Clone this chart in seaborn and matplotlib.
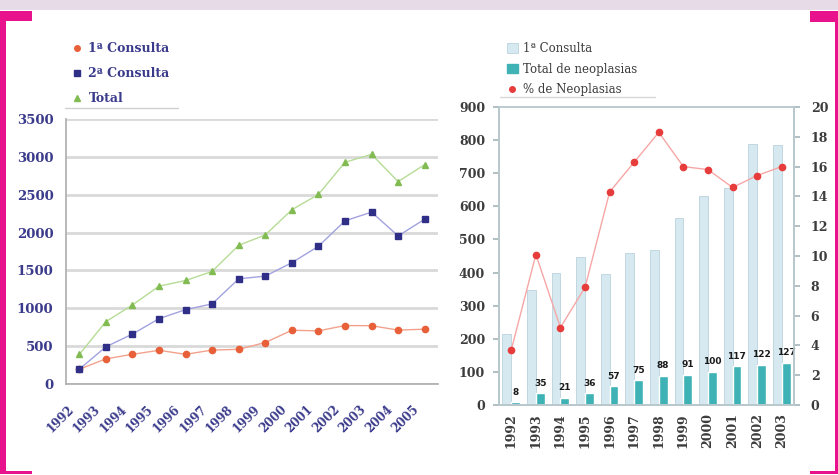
import numpy as np
import pandas as pd
import seaborn as sns
from matplotlib import pyplot as plt
from matplotlib.patches import Rectangle, Patch
from matplotlib.lines import Line2D

# left chart data
years_left = ["1992", "1993", "1994", "1995", "1996", "1997", "1998",
              "1999", "2000", "2001", "2002", "2003", "2004", "2005"]
consulta1 = [195, 332, 392, 445, 392, 448, 458, 548, 710, 702, 772, 770, 712, 724]
consulta2 = [195, 491, 659, 863, 982, 1058, 1389, 1425, 1602, 1819, 2155, 2270, 1956, 2177]
total = [390, 823, 1044, 1292, 1367, 1487, 1832, 1969, 2301, 2504, 2929, 3033, 2673, 2898]

# right chart data
years_right = ["1992", "1993", "1994", "1995", "1996", "1997",
               "1998", "1999", "2000", "2001", "2002", "2003"]
primera = [215, 347, 400, 447, 395, 458, 468, 565, 630, 656, 788, 786]
neoplasias = [8, 35, 21, 36, 57, 75, 88, 91, 100, 117, 122, 127]
pct_neo = [3.7, 10.1, 5.2, 7.9, 14.3, 16.3, 18.3, 16.0, 15.8, 14.6, 15.4, 16.0]

W, H = 838, 475
NAVY = "#3b3b8c"
GREY = "#3c3c3c"
MAGENTA = "#e8128c"
LIGHT = "#d6e9f0"
TEAL = "#3fb2b5"


def px_rect(fig, x0, y0, x1, y1, color):
    fig.patches.append(Rectangle((x0 / W, 1 - y1 / H), (x1 - x0) / W, (y1 - y0) / H,
                                 transform=fig.transFigure, figure=fig,
                                 color=color, lw=0, zorder=10))


def px_line(fig, x0, x1, y, color):
    fig.lines.append(Line2D([x0 / W, x1 / W], [1 - y / H, 1 - y / H],
                            transform=fig.transFigure, figure=fig,
                            color=color, lw=1))


def left_chart(fig):
    ax = fig.add_axes([66 / W, 1 - 384 / H, 372 / W, 265 / H])
    df = pd.DataFrame({"idx": np.arange(len(years_left)), "c1": consulta1,
                       "c2": consulta2, "tot": total})
    series = [("c1", "#f2a28c", "#e8603a", "o", 4.5),
              ("c2", "#a2a2e0", "#2f2f88", "s", 4.5),
              ("tot", "#b6dc96", "#82bb52", "^", 5)]
    for col, lc, mc, mk, ms in series:
        sns.lineplot(data=df, x="idx", y=col, ax=ax, color=lc, lw=1)
        ax.plot(df["idx"], df[col], ls="none", marker=mk, ms=ms, color=mc, zorder=4)
    ax.set_xlim(-0.5, len(years_left) - 0.5)
    ax.set_ylim(0, 3500)
    ax.set_yticks(range(0, 3501, 500))
    ax.grid(axis="y", color="#d9d9d9", lw=2)
    ax.grid(axis="x", visible=False)
    ax.set_xticks(np.arange(len(years_left)) - 0.28, years_left, rotation=45,
                  ha="right", va="center", rotation_mode="anchor")
    ax.set_xticks(np.arange(len(years_left) + 1) - 0.5, minor=True)
    ax.tick_params(axis="x", which="major", length=0, pad=17)
    ax.tick_params(axis="x", which="minor", length=4, color="#b0b0b0")
    ax.tick_params(axis="y", length=4, color="#b0b0b0", pad=5)
    for lab in ax.get_xticklabels():
        lab.set_color(NAVY)
        lab.set_fontweight("bold")
        lab.set_fontsize(8.5)
    for lab in ax.get_yticklabels():
        lab.set_color(NAVY)
        lab.set_fontweight("bold")
        lab.set_fontsize(9.5)
    for s in ["top", "right"]:
        ax.spines[s].set_visible(False)
    for s in ["left", "bottom"]:
        ax.spines[s].set_color("#b0b0b0")
    ax.set(xlabel="", ylabel="")
    handles = [Line2D([], [], ls="none", marker="o", ms=4, color="#e8603a"),
               Line2D([], [], ls="none", marker="s", ms=4, color="#2f2f88"),
               Line2D([], [], ls="none", marker="^", ms=4, color="#82bb52")]
    leg = fig.legend(handles, ["1ª Consulta", "2ª Consulta", "Total"],
                     loc="upper left", bbox_to_anchor=(66 / W, 1 - 36 / H),
                     frameon=False, handlelength=0.8, handletextpad=0.5,
                     labelspacing=0.95, borderpad=0,
                     prop={"family": "DejaVu Serif", "weight": "bold", "size": 9})
    for t in leg.get_texts():
        t.set_color(NAVY)
    px_line(fig, 65, 178, 108, "#d0d0d0")


def right_chart(fig):
    ax = fig.add_axes([499 / W, 1 - 405 / H, 295 / W, 298 / H])
    long_df = pd.DataFrame({
        "Año": years_right * 2,
        "valor": primera + neoplasias,
        "serie": ["1ª Consulta"] * len(years_right) + ["Total de neoplasias"] * len(years_right),
    })
    sns.barplot(data=long_df, x="Año", y="valor", hue="serie", ax=ax,
                palette=[LIGHT, TEAL], width=0.72, legend=False, saturation=1)
    for bar in ax.containers[0]:
        bar.set_edgecolor("#b9d3dd")
        bar.set_linewidth(0.6)
    ax.bar_label(ax.containers[1], padding=4, fontsize=6.5, fontweight="bold",
                 color="#1a1a1a", family="DejaVu Sans")
    ax.set_ylim(0, 900)
    ax.set_yticks(range(0, 901, 100))
    ax.set_xlim(-0.5, len(years_right) - 0.5)
    ax.set_xticks(np.arange(len(years_right)), years_right, rotation=90)
    ax.set_xticks(np.arange(len(years_right) + 1) - 0.5, minor=True)
    ax.tick_params(axis="x", which="major", length=0, pad=6)
    ax.tick_params(axis="x", which="minor", length=4, color="#a8b8bc")
    ax.tick_params(axis="y", length=4, color="#a8b8bc", pad=6)
    ax.set(xlabel="", ylabel="")
    ax.grid(False)

    ax2 = ax.twinx()
    x = np.arange(len(years_right))
    sns.lineplot(x=x, y=pct_neo, ax=ax2, color="#f6a6a6", lw=1)
    ax2.plot(x, pct_neo, ls="none", marker="o", ms=4.5, color="#e63c3c", zorder=4)
    ax2.set_ylim(0, 20)
    ax2.set_yticks(range(0, 21, 2))
    ax2.tick_params(axis="y", length=4, color="#a8b8bc", pad=8)
    ax2.grid(False)
    for a in (ax, ax2):
        for s in a.spines.values():
            s.set_color("#b8c8cc")
        for lab in a.get_xticklabels() + a.get_yticklabels():
            lab.set_color(GREY)
            lab.set_fontweight("bold")
            lab.set_fontsize(9)
    ax.spines["top"].set_color("#e0e0e0")

    handles = [Patch(facecolor=LIGHT, edgecolor="#b9d3dd", lw=0.6),
               Patch(facecolor=TEAL, edgecolor=TEAL),
               Line2D([], [], ls="none", marker="o", ms=4, color="#e63c3c")]
    leg = fig.legend(handles, ["1ª Consulta", "Total de neoplasias", "% de Neoplasias"],
                     loc="upper left", bbox_to_anchor=(501 / W, 1 - 36 / H),
                     frameon=False, handlelength=0.9, handleheight=0.9,
                     handletextpad=0.5, labelspacing=0.65, borderpad=0,
                     prop={"family": "DejaVu Serif", "size": 8.5})
    for t in leg.get_texts():
        t.set_color(GREY)
    px_line(fig, 500, 655, 97, "#d8d8d8")


def main():
    sns.set_theme(style="white")
    plt.rcParams["font.family"] = ["DejaVu Serif", "DejaVu Sans"]
    fig = plt.figure(figsize=(W / 100, H / 100), dpi=100, facecolor="white")

    left_chart(fig)
    right_chart(fig)

    # page frame
    px_rect(fig, 0, 0, W, 10, "#e8dbe8")
    px_rect(fig, 0, 11, 6, 474, MAGENTA)
    px_rect(fig, 0, 11, 32, 21, MAGENTA)
    px_rect(fig, 0, 471, 32, 474, MAGENTA)
    px_rect(fig, 835, 11, 838, 474, MAGENTA)
    px_rect(fig, 810, 11, 838, 22, MAGENTA)
    px_rect(fig, 810, 471, 838, 474, MAGENTA)

    fig.savefig("out.png", dpi=100, facecolor="white")


main()
